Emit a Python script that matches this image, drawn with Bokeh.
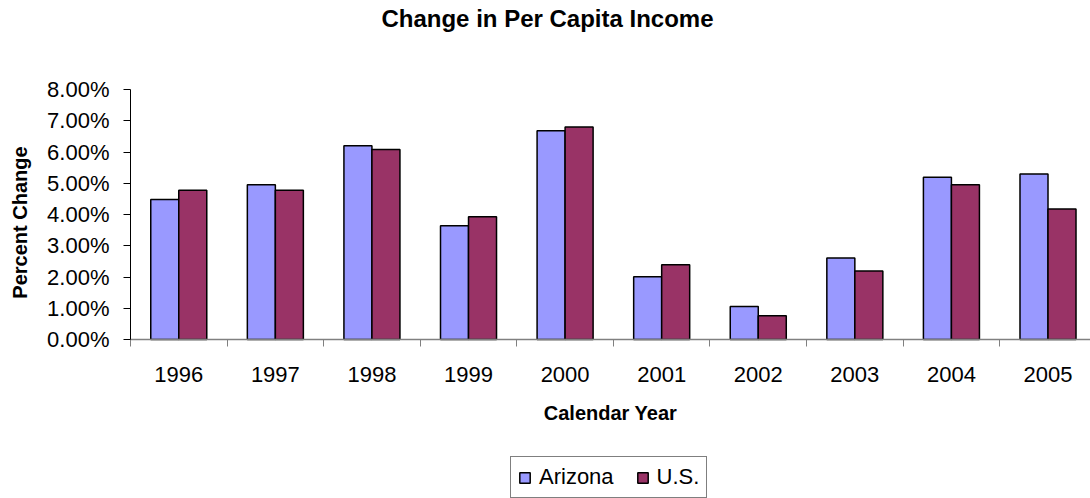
import numpy as np
from bokeh.plotting import figure
from bokeh.models import (ColumnDataSource, Range1d, FixedTicker, SingleIntervalTicker,
                          NumeralTickFormatter, Legend, LegendItem, Label)
from bokeh.transform import dodge
from bokeh.embed import file_html
from bokeh.resources import INLINE

# ---- data ----
years = ["1996", "1997", "1998", "1999", "2000", "2001", "2002", "2003", "2004", "2005"]
arizona = [0.0448, 0.0495, 0.0620, 0.0364, 0.0668, 0.0201, 0.0106, 0.0261, 0.0519, 0.0530]
us = [0.0478, 0.0478, 0.0608, 0.0393, 0.0680, 0.0239, 0.0076, 0.0219, 0.0495, 0.0418]
series_names = ["Arizona", "U.S."]
title_text = "Change in Per Capita Income"
x_title = "Calendar Year"
y_title = "Percent Change"

FONT = "Liberation Sans"
AZ_COLOR = "#9999FF"
US_COLOR = "#993366"

centers = np.arange(len(years)) + 0.5
bounds = np.arange(len(years) + 1)

src = ColumnDataSource(dict(x=centers, year=years, az=arizona, us=us))

# frame spans the whole canvas; the plot area (0..8%, categories) sits at
# page columns 130..1090 and rows 89..339
p = figure(width=1090, height=498,
           x_range=Range1d(-1.3458, 9.94), y_range=Range1d(-0.05088, 0.10848),
           output_backend="svg", toolbar_location=None,
           min_border_left=0, min_border_right=0,
           min_border_top=0, min_border_bottom=0)

p.background_fill_color = "white"
p.border_fill_color = "white"
p.outline_line_color = None
p.xgrid.visible = False
p.ygrid.visible = False

r_az = p.vbar(x=dodge("x", -0.145), top="az", width=0.29, source=src,
              fill_color=AZ_COLOR, line_color="black", line_width=1.5)
r_us = p.vbar(x=dodge("x", 0.145), top="us", width=0.29, source=src,
              fill_color=US_COLOR, line_color="black", line_width=1.5)

# title and y-axis title as screen-positioned labels
p.add_layout(Label(x=547, y=480, x_units="screen", y_units="screen", text=title_text,
                   text_align="center", text_baseline="middle",
                   text_font=FONT, text_font_size="24px", text_font_style="bold",
                   text_color="black"))
p.add_layout(Label(x=19, y=276, x_units="screen", y_units="screen", text=y_title,
                   angle=np.pi / 2, text_align="center", text_baseline="middle",
                   text_font=FONT, text_font_size="20px", text_font_style="bold",
                   text_color="black"))

# x axis (category axis drawn at value 0)
xa = p.xaxis[0]
xa.fixed_location = 0
xa.bounds = (0, len(years))
xa.ticker = FixedTicker(ticks=list(centers), minor_ticks=list(bounds))
xa.major_label_overrides = {float(c): y for c, y in zip(centers, years)}
xa.major_tick_line_color = None
xa.major_tick_out = 0
xa.major_tick_in = 0
xa.minor_tick_line_color = "#808080"
xa.minor_tick_out = 7
xa.minor_tick_in = 0
xa.axis_line_color = "#808080"
xa.axis_line_width = 1.5
xa.major_label_text_font = FONT
xa.major_label_text_font_size = "22px"
xa.major_label_text_color = "black"
xa.major_label_standoff = 20
xa.axis_label = x_title
xa.axis_label_text_font = FONT
xa.axis_label_text_font_size = "20px"
xa.axis_label_text_font_style = "bold"
xa.axis_label_text_color = "black"
xa.axis_label_standoff = 17

# y axis drawn at the first category edge
ya = p.yaxis[0]
ya.fixed_location = 0
ya.bounds = (0, 0.08)
ya.ticker = SingleIntervalTicker(interval=0.01, num_minor_ticks=0)
ya.formatter = NumeralTickFormatter(format="0.00%")
ya.major_tick_out = 7
ya.major_tick_in = 0
ya.major_tick_line_color = "black"
ya.minor_tick_line_color = None
ya.axis_line_color = "black"
ya.major_label_text_font = FONT
ya.major_label_text_font_size = "22px"
ya.major_label_text_color = "black"
ya.major_label_standoff = 14

legend = Legend(items=[LegendItem(label=series_names[0], renderers=[r_az]),
                       LegendItem(label=series_names[1], renderers=[r_us])],
                orientation="horizontal", location=(510, 0),
                label_text_font=FONT, label_text_font_size="22px",
                label_text_color="black",
                glyph_width=13, glyph_height=13, label_standoff=8,
                spacing=22, padding=7, margin=0,
                border_line_color="black", border_line_width=1,
                background_fill_color="white")
p.add_layout(legend, "center")

open("out.html", "w").write(file_html(p, INLINE))
